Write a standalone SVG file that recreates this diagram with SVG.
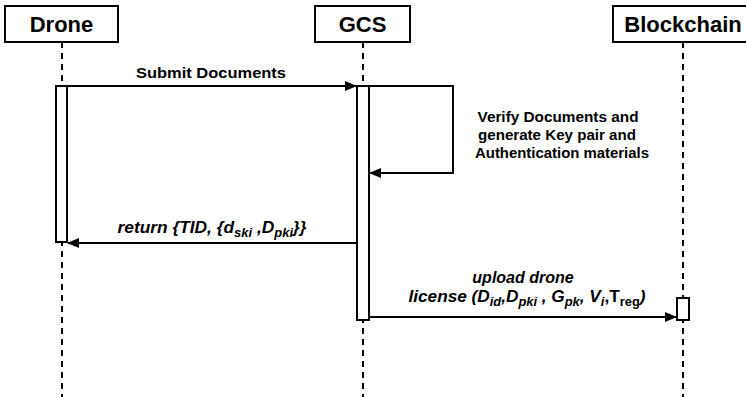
<svg xmlns="http://www.w3.org/2000/svg" width="746" height="397" viewBox="0 0 746 397">
<style>
  .box{fill:#fff;stroke:#000;stroke-width:2}
  .title{font-family:"Liberation Sans",Arial,sans-serif;font-weight:bold;font-size:22px;text-anchor:middle;fill:#000}
  .life{stroke:#000;stroke-width:2;stroke-dasharray:6 5;fill:none}
  .act{fill:#fff;stroke:#000;stroke-width:2}
  .msg{stroke:#000;stroke-width:2;fill:none}
  .lbl{font-family:"Liberation Sans",Arial,sans-serif;font-weight:bold;font-size:15px;text-anchor:middle;fill:#000}
  .big{font-size:16px}
  .it{font-style:italic}
  .sub{font-size:12px}
</style>
<defs>
  <marker id="ah" markerWidth="12" markerHeight="10" refX="11" refY="5" orient="auto" markerUnits="userSpaceOnUse">
    <path d="M0,0 L12,5 L0,10 Z" fill="#000"/>
  </marker>
</defs>
<g id="lifelines">
  <line class="life" x1="62" y1="42" x2="62" y2="397"/>
  <line class="life" x1="363" y1="42" x2="363" y2="397"/>
  <line class="life" x1="683" y1="42" x2="683" y2="397"/>
</g>
<g id="drone">
  <rect class="box" x="5" y="6" width="113" height="36"/>
  <text class="title" x="61.5" y="32">Drone</text>
  <rect class="act" x="56" y="86" width="11" height="156"/>
</g>
<g id="gcs">
  <rect class="box" x="315" y="6" width="95" height="36"/>
  <text class="title" x="362.5" y="32">GCS</text>
  <rect class="act" x="357" y="86" width="12" height="234"/>
</g>
<g id="blockchain">
  <rect class="box" x="613" y="6" width="140" height="36"/>
  <text class="title" x="683" y="32">Blockchain</text>
  <rect class="act" x="677" y="298" width="12" height="22"/>
</g>
<g id="connectors">
  <line class="msg" x1="67" y1="86" x2="356" y2="86" marker-end="url(#ah)"/>
  <text class="lbl" x="211" y="78" textLength="150" lengthAdjust="spacingAndGlyphs">Submit Documents</text>
  <polyline class="msg" points="369,86 453,86 453,173 370,173" marker-end="url(#ah)"/>
  <text class="lbl" x="558" y="122" style="font-size:14px" textLength="161" lengthAdjust="spacingAndGlyphs">Verify Documents and</text>
  <text class="lbl" x="557" y="140" style="font-size:14px" textLength="158" lengthAdjust="spacingAndGlyphs">generate Key pair and</text>
  <text class="lbl" x="562" y="158" style="font-size:14px" textLength="174" lengthAdjust="spacingAndGlyphs">Authentication materials</text>
  <line class="msg" x1="357" y1="243" x2="68" y2="243" marker-end="url(#ah)"/>
  <text class="lbl big it" x="212" y="233" textLength="189" lengthAdjust="spacingAndGlyphs">return {TID, {d<tspan class="sub" dy="4">ski</tspan><tspan dy="-4"> ,D</tspan><tspan class="sub" dy="4">pki</tspan><tspan dy="-4">}}</tspan></text>
  <line class="msg" x1="369" y1="317" x2="676" y2="317" marker-end="url(#ah)"/>
  <text class="lbl big it" x="523" y="283">upload drone</text>
  <text class="lbl big it" x="527" y="302" textLength="237" lengthAdjust="spacingAndGlyphs">license (D<tspan class="sub" dy="4">id</tspan><tspan dy="-4">,D</tspan><tspan class="sub" dy="4">pki</tspan><tspan dy="-4"> , G</tspan><tspan class="sub" dy="4">pk</tspan><tspan dy="-4">, V</tspan><tspan class="sub" dy="4">i</tspan><tspan dy="-4" style="font-style:normal">,T</tspan><tspan class="sub" dy="4" style="font-style:normal">reg</tspan><tspan dy="-4">)</tspan></text>
</g>
</svg>
